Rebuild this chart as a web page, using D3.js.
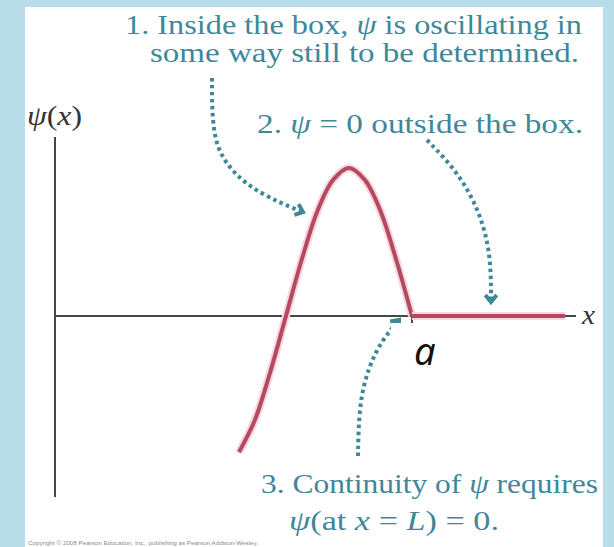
<!DOCTYPE html>
<html>
<head>
<meta charset="utf-8">
<script src="https://cdn.jsdelivr.net/npm/d3@7"></script>
<style>
  html, body { margin: 0; padding: 0; background: #b8dde8; }
  svg { display: block; }
  .serif { font-family: "Liberation Serif"; }
</style>
</head>
<body>
<div id="chart"></div>
<script>
// Wave function (x in units of the box width, psi in units of the peak)
const psiX = [-0.373, -0.25, -0.125, 0, 0.125, 0.25, 0.375, 0.5, 0.625, 0.75, 0.875, 1.0];
const psiY = [-0.92, -0.71, -0.38, 0, 0.38, 0.71, 0.92, 1.0, 0.92, 0.71, 0.38, 0];
// psi = 0 outside the box
const outsideX = [1.0, 2.214];
const outsideY = [0, 0];
// axis extents
const xAxisExtent = [-1.833, 2.302];
const yAxisExtent = [-1.223, 1.21];

// notes
const note1 = ["1. Inside the box, ψ is oscillating in", "some way still to be determined."];
const note2 = "2. ψ = 0 outside the box.";
const note3 = ["3. Continuity of ψ requires", "ψ(at x = L) = 0."];
const copyright = "Copyright © 2008 Pearson Education, Inc., publishing as Pearson Addison-Wesley.";

const width = 614, height = 547;
const teal = "#3f8799";
const rose = "#b34a62";

const svg = d3.select("#chart").append("svg")
    .attr("width", width)
    .attr("height", height);

// blue frame and white panel
svg.append("rect").attr("width", width).attr("height", height).attr("fill", "#b8dde8");
svg.append("rect").attr("x", 25).attr("y", 7).attr("width", 578).attr("height", 540).attr("fill", "#ffffff");

const x = d3.scaleLinear().domain([xAxisExtent[0], xAxisExtent[1]]).range([55, 576]);
const y = d3.scaleLinear().domain([-1, 1]).range([464, 168]);

// axes
svg.append("line")
    .attr("x1", x(xAxisExtent[0])).attr("x2", x(xAxisExtent[0]))
    .attr("y1", y(yAxisExtent[1])).attr("y2", y(yAxisExtent[0]))
    .attr("stroke", "#474747").attr("stroke-width", 2);
svg.append("line")
    .attr("x1", x(xAxisExtent[0])).attr("x2", x(xAxisExtent[1]))
    .attr("y1", y(0)).attr("y2", y(0))
    .attr("stroke", "#474747").attr("stroke-width", 2);
// box wall remnant
svg.append("line")
    .attr("x1", x(1)).attr("x2", x(1))
    .attr("y1", y(0)).attr("y2", y(0) + 8)
    .attr("stroke", "#474747").attr("stroke-width", 2);

// wave function
const inside = psiX.map((v, i) => [v, psiY[i]]);
const outside = outsideX.map((v, i) => [v, outsideY[i]]);
const line = d3.line().x(d => x(d[0])).y(d => y(d[1])).curve(d3.curveCatmullRom.alpha(0.5));

[inside, outside].forEach(pts => {
    svg.append("path").attr("d", line(pts))
        .attr("fill", "none").attr("stroke", "#f9d6de").attr("stroke-width", 8);
    svg.append("path").attr("d", line(pts))
        .attr("fill", "none").attr("stroke", rose).attr("stroke-width", 4);
});

// dotted arrows
function arrow(points, headLen) {
    const p = d3.line().curve(d3.curveBasis)(points);
    svg.append("path").attr("d", p)
        .attr("fill", "none").attr("stroke", teal)
        .attr("stroke-width", 4).attr("stroke-dasharray", "3.5 3.5");
    const n = points.length;
    const [x1, y1] = points[n - 2], [x2, y2] = points[n - 1];
    const ang = Math.atan2(y2 - y1, x2 - x1);
    const a1 = ang + Math.PI * 0.78, a2 = ang - Math.PI * 0.78;
    svg.append("path")
        .attr("d", `M${x2 + headLen * Math.cos(a1)},${y2 + headLen * Math.sin(a1)}L${x2},${y2}L${x2 + headLen * Math.cos(a2)},${y2 + headLen * Math.sin(a2)}`)
        .attr("fill", "none").attr("stroke", teal).attr("stroke-width", 4);
}
arrow([[212, 78], [212, 120], [218, 155], [245, 185], [280, 203], [303, 212]], 9);
arrow([[427, 140], [458, 172], [480, 212], [491, 255], [491, 302]], 9);
arrow([[358, 456], [359, 405], [368, 368], [382, 340], [399, 320]], 9);

// white patch with the "a" label
svg.append("rect").attr("x", 391).attr("y", 323).attr("width", 62).attr("height", 52).attr("fill", "#ffffff");
svg.append("text")
    .attr("x", 414).attr("y", 365)
    .style("font-family", "'Noto Sans', sans-serif").attr("font-style", "italic")
    .attr("font-size", 38).attr("fill", "#111")
    .text("a");

// text helper: serif text squeezed to the width seen in the picture
function serif(tx, ty, str, w, size, fill) {
    const t = svg.append("text")
        .attr("class", "serif")
        .attr("x", tx).attr("y", ty)
        .attr("font-size", size).attr("fill", fill)
        .attr("textLength", w).attr("lengthAdjust", "spacingAndGlyphs");
    // italicise psi, x and L
    str.split(/(ψ|\bx\b|\bL\b)/).forEach(part => {
        if (!part) return;
        const it = part === "ψ" || part === "x" || part === "L";
        t.append("tspan").attr("font-style", it ? "italic" : "normal").text(part);
    });
    return t;
}

serif(125, 34, note1[0], 457, 28, teal);
serif(150, 62, note1[1], 429, 28, teal);
serif(257, 133, note2, 326, 28, teal);
serif(261, 493, note3[0], 337, 28, teal);
serif(289, 530, note3[1], 210, 28, teal);

// axis labels
serif(27, 125, "ψ(x)", 55, 28, "#333");
serif(582, 324, "x", 13, 28, "#333");

svg.append("text")
    .attr("x", 28).attr("y", 545)
    .style("font-family", "'Liberation Sans', sans-serif")
    .attr("font-size", 5.5).attr("fill", "#8a8a8a")
    .attr("textLength", 230).attr("lengthAdjust", "spacingAndGlyphs")
    .text(copyright);
</script>
</body>
</html>
